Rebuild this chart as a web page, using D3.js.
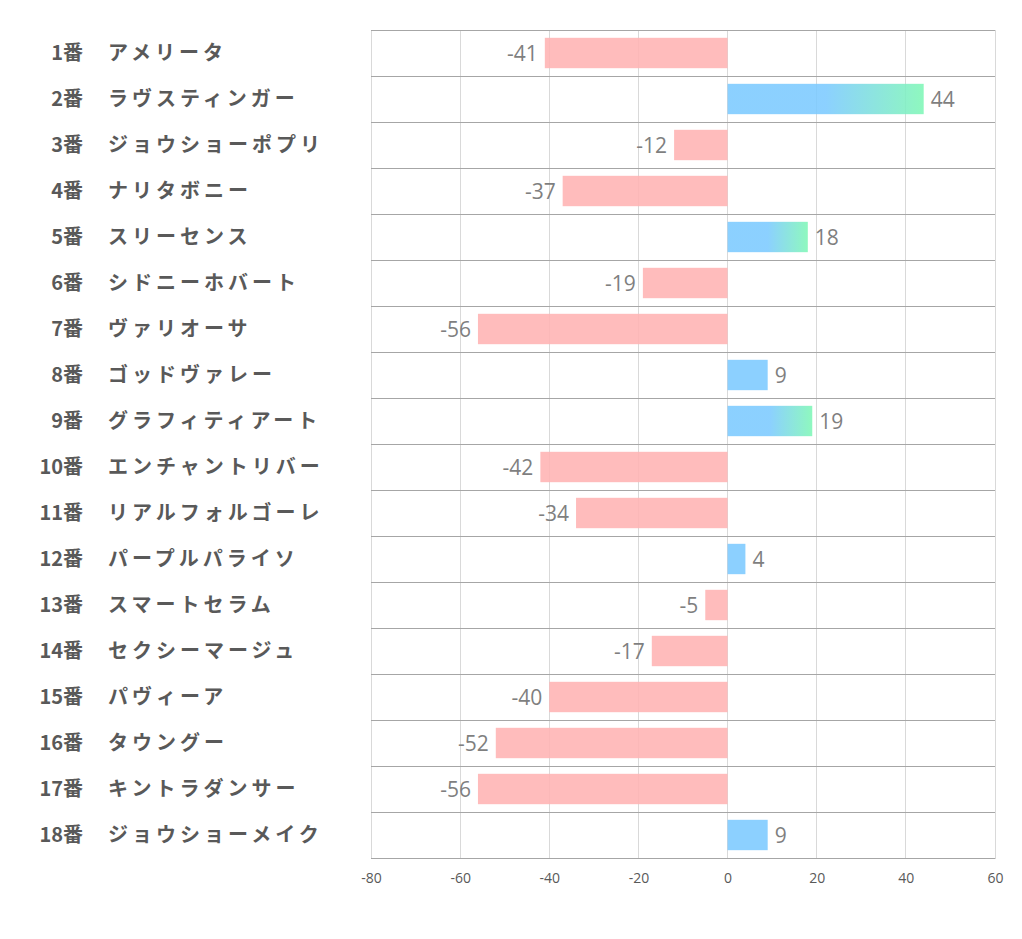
<!DOCTYPE html>
<html><head><meta charset="utf-8">
<script src="https://cdn.jsdelivr.net/npm/d3@7"></script>
<style>body{margin:0;background:#fff;}</style>
</head><body>
<script>
const numbers = ["1番","2番","3番","4番","5番","6番","7番","8番","9番","10番","11番","12番","13番","14番","15番","16番","17番","18番"];
const names = ["アメリータ","ラヴスティンガー","ジョウショーポプリ","ナリタボニー","スリーセンス","シドニーホバート","ヴァリオーサ","ゴッドヴァレー","グラフィティアート","エンチャントリバー","リアルフォルゴーレ","パープルパライソ","スマートセラム","セクシーマージュ","パヴィーア","タウングー","キントラダンサー","ジョウショーメイク"];
const values = [-41,44,-12,-37,18,-19,-56,9,19,-42,-34,4,-5,-17,-40,-52,-56,9];
const xTicks = [-80,-60,-40,-20,0,20,40,60];

const W=1022,H=939;
const svg=d3.select("body").append("svg").attr("width",W).attr("height",H);
const defs=svg.append("defs");
const grad=defs.append("linearGradient").attr("id","g").attr("x1","0").attr("x2","1").attr("y1","0").attr("y2","0");
grad.append("stop").attr("offset","0.5").attr("stop-color","#7ccaff");
grad.append("stop").attr("offset","1").attr("stop-color","#7ff7b6");

const x=d3.scaleLinear().domain([-80,60]).range([371,995]);
const y=d3.scaleBand().domain(d3.range(values.length)).range([30,858]).paddingInner(0.34).paddingOuter(0.17);
const rowH=(858-30)/values.length;

// vertical gridlines
svg.append("g").selectAll("line").data(xTicks).join("line")
  .attr("x1",d=>x(d)).attr("x2",d=>x(d)).attr("y1",30).attr("y2",858)
  .attr("stroke","#d9d9d9").attr("stroke-width",1).attr("shape-rendering","crispEdges");
// row separators
svg.append("g").selectAll("line").data(d3.range(values.length+1)).join("line")
  .attr("x1",371).attr("x2",995).attr("y1",i=>30+i*rowH).attr("y2",i=>30+i*rowH)
  .attr("stroke","#a6a6a6").attr("stroke-width",1).attr("shape-rendering","crispEdges");

// bars
svg.append("g").selectAll("rect").data(values).join("rect")
  .attr("x",d=>x(Math.min(0,d))).attr("width",d=>Math.abs(x(d)-x(0)))
  .attr("y",(d,i)=>y(i)).attr("height",y.bandwidth())
  .attr("fill",d=>d<0?"#ffb3b3":(d>=10?"url(#g)":"#7ccaff"))
  .attr("opacity",0.88);

// value labels
svg.append("g").selectAll("text").data(values).join("text")
  .attr("x",d=>d<0?x(d)-7:x(d)+7)
  .attr("y",(d,i)=>y(i)+y.bandwidth()/2)
  .attr("dy","0.36em")
  .attr("text-anchor",d=>d<0?"end":"start")
  .attr("font-family","'Open Sans','Noto Sans',sans-serif").attr("font-size",21)
  .attr("fill","#7f7f7f").text(d=>d);

// axis
const ax=svg.append("g").attr("transform","translate(0,858)")
  .call(d3.axisBottom(x).tickValues(xTicks).tickSize(0).tickPadding(15).tickFormat(d=>d));
ax.select(".domain").attr("stroke","#a6a6a6");
ax.selectAll("text").attr("font-family","'Open Sans','Noto Sans',sans-serif").attr("font-size",14).attr("fill","#595959");

// category labels
const lab=svg.append("g");
lab.selectAll("text.num").data(numbers).join("text").attr("class","num")
  .attr("x",83).attr("y",(d,i)=>30+(i+0.5)*rowH).attr("dy","0.35em")
  .attr("text-anchor","end").attr("font-family","'Noto Sans CJK JP',sans-serif")
  .attr("font-weight","bold").attr("font-size",20).attr("fill","#595959").text(d=>d);
lab.selectAll("text.nm").data(names).join("text").attr("class","nm")
  .attr("x",108).attr("y",(d,i)=>30+(i+0.5)*rowH).attr("dy","0.35em")
  .attr("text-anchor","start").attr("font-family","'Noto Sans CJK JP',sans-serif")
  .attr("font-weight","bold").attr("font-size",20).attr("letter-spacing","4px")
  .attr("fill","#595959").text(d=>d);
</script>
</body></html>
